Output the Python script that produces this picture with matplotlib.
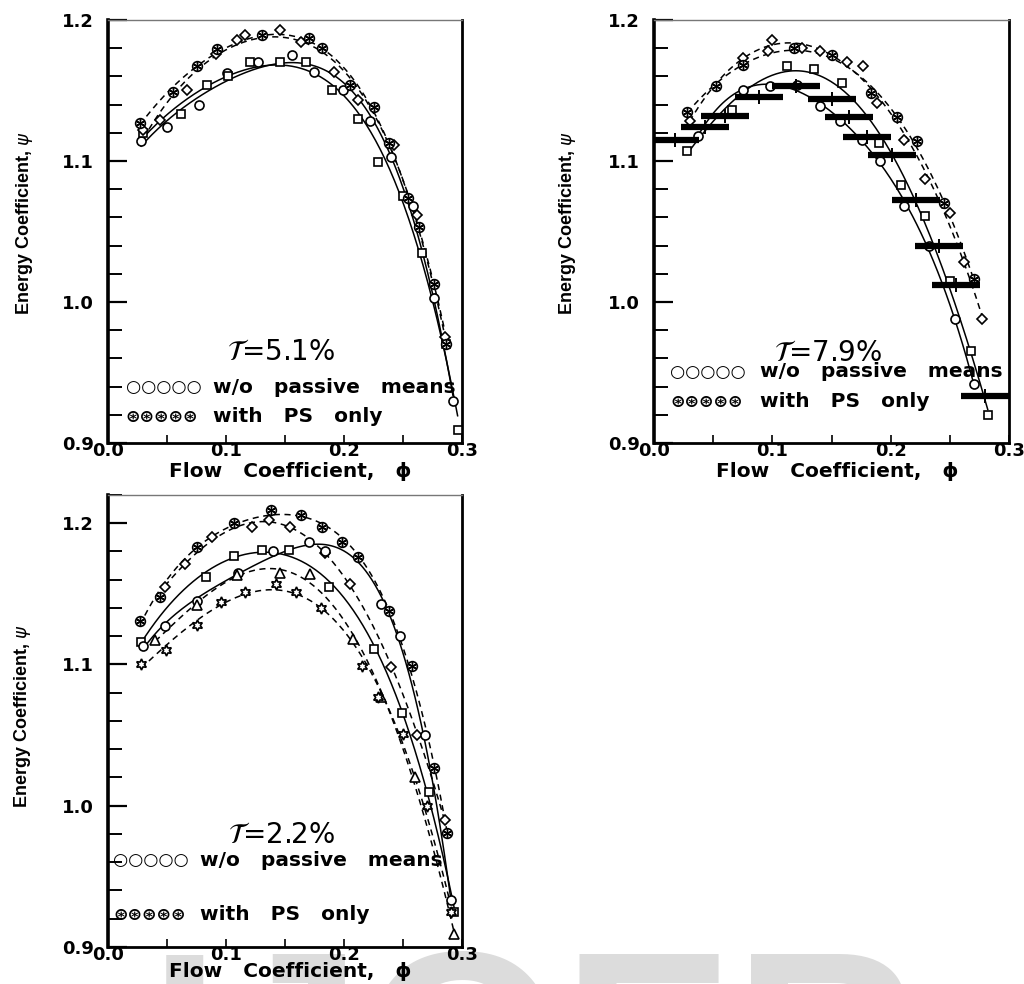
import numpy as np
import matplotlib
matplotlib.use("Agg")
import matplotlib.pyplot as plt
from matplotlib import font_manager
from matplotlib.ticker import MultipleLocator, FormatStrFormatter

# ---- tau = 5.1 % ----
a_circ_phi = [0.028, 0.050, 0.077, 0.101, 0.127, 0.156, 0.174, 0.199, 0.222, 0.240, 0.258, 0.276, 0.292]
a_circ_psi = [1.114, 1.124, 1.140, 1.162, 1.170, 1.175, 1.163, 1.150, 1.128, 1.103, 1.068, 1.003, 0.930]
a_sq_phi = [0.030, 0.062, 0.084, 0.102, 0.120, 0.146, 0.168, 0.190, 0.212, 0.229, 0.250, 0.266, 0.286, 0.296]
a_sq_psi = [1.120, 1.133, 1.154, 1.160, 1.170, 1.170, 1.170, 1.150, 1.130, 1.099, 1.075, 1.035, 0.970, 0.909]
a_dia_phi = [0.030, 0.044, 0.067, 0.091, 0.109, 0.116, 0.146, 0.163, 0.191, 0.212, 0.242, 0.262, 0.285]
a_dia_psi = [1.122, 1.129, 1.150, 1.176, 1.186, 1.189, 1.193, 1.184, 1.163, 1.143, 1.111, 1.062, 0.975]
a_ps_phi = [0.027, 0.055, 0.075, 0.092, 0.130, 0.170, 0.181, 0.205, 0.225, 0.238, 0.254, 0.263, 0.276, 0.286]
a_ps_psi = [1.127, 1.149, 1.167, 1.179, 1.189, 1.187, 1.180, 1.154, 1.138, 1.113, 1.074, 1.053, 1.013, 0.970]

# ---- tau = 7.9 % ----
b_circ_phi = [0.037, 0.075, 0.098, 0.121, 0.140, 0.157, 0.176, 0.191, 0.211, 0.232, 0.254, 0.270]
b_circ_psi = [1.118, 1.150, 1.153, 1.154, 1.139, 1.128, 1.115, 1.100, 1.068, 1.040, 0.988, 0.942]
b_sq_phi = [0.028, 0.066, 0.112, 0.135, 0.159, 0.190, 0.209, 0.229, 0.250, 0.268, 0.282]
b_sq_psi = [1.107, 1.136, 1.167, 1.165, 1.155, 1.113, 1.083, 1.061, 1.015, 0.965, 0.920]
b_dia_phi = [0.030, 0.075, 0.096, 0.100, 0.125, 0.140, 0.163, 0.177, 0.188, 0.211, 0.229, 0.250, 0.262, 0.277]
b_dia_psi = [1.128, 1.173, 1.178, 1.186, 1.180, 1.178, 1.170, 1.167, 1.141, 1.115, 1.087, 1.063, 1.028, 0.988]
b_ps_phi = [0.028, 0.052, 0.075, 0.118, 0.150, 0.183, 0.205, 0.222, 0.245, 0.270]
b_ps_psi = [1.135, 1.153, 1.168, 1.180, 1.175, 1.148, 1.131, 1.114, 1.070, 1.016]
b_bar_phi = [0.018, 0.043, 0.060, 0.089, 0.120, 0.150, 0.165, 0.180, 0.201, 0.221, 0.241, 0.255, 0.280]
b_bar_psi = [1.115, 1.124, 1.132, 1.145, 1.153, 1.144, 1.131, 1.117, 1.104, 1.072, 1.040, 1.012, 0.933]

# ---- tau = 2.2 % ----
c_ps_phi = [0.027, 0.044, 0.075, 0.107, 0.138, 0.163, 0.181, 0.198, 0.212, 0.238, 0.257, 0.276, 0.287]
c_ps_psi = [1.131, 1.148, 1.183, 1.200, 1.209, 1.206, 1.197, 1.187, 1.176, 1.138, 1.099, 1.027, 0.981]
c_dia_phi = [0.048, 0.065, 0.088, 0.122, 0.136, 0.154, 0.184, 0.205, 0.240, 0.262, 0.285]
c_dia_psi = [1.155, 1.171, 1.190, 1.197, 1.202, 1.197, 1.179, 1.157, 1.098, 1.050, 0.990]
c_sq_phi = [0.028, 0.083, 0.107, 0.130, 0.153, 0.187, 0.225, 0.249, 0.272, 0.293]
c_sq_psi = [1.116, 1.162, 1.177, 1.181, 1.181, 1.155, 1.111, 1.066, 1.010, 0.925]
c_circ_phi = [0.030, 0.048, 0.075, 0.110, 0.140, 0.170, 0.184, 0.231, 0.247, 0.268, 0.290]
c_circ_psi = [1.113, 1.127, 1.145, 1.165, 1.180, 1.187, 1.180, 1.143, 1.120, 1.050, 0.933]
c_tri_phi = [0.040, 0.075, 0.109, 0.146, 0.171, 0.207, 0.231, 0.260, 0.293]
c_tri_psi = [1.117, 1.142, 1.163, 1.165, 1.164, 1.118, 1.077, 1.020, 0.909]
c_star_phi = [0.028, 0.049, 0.075, 0.096, 0.116, 0.142, 0.159, 0.180, 0.215, 0.229, 0.250, 0.270, 0.290]
c_star_psi = [1.100, 1.110, 1.128, 1.144, 1.151, 1.157, 1.151, 1.140, 1.099, 1.077, 1.051, 1.000, 0.925]


def narrow_font():
    # pick a narrow face for the rotated axis label if one is installed
    names = {f.name for f in font_manager.fontManager.ttflist}
    if "Liberation Sans Narrow" in names:
        return dict(family=["Liberation Sans Narrow", "DejaVu Sans"], fontsize=14)
    return dict(family=["Liberation Sans", "DejaVu Sans"], fontsize=13)


TICK_FONT = font_manager.FontProperties(family="DejaVu Sans", weight="bold", size=13)
YLAB_FONT = narrow_font()


def fitted(phi, psi, deg=4):
    c = np.polyfit(phi, psi, deg)
    xs = np.linspace(min(phi), max(phi), 200)
    return xs, np.polyval(c, xs)


def series(ax, phi, psi, marker, ls, ms=6.5):
    xs, ys = fitted(phi, psi)
    if ls == "--":
        ax.plot(xs, ys, color="black", lw=1.1, dashes=(4, 3), zorder=2)
    else:
        ax.plot(xs, ys, color="black", lw=1.1, zorder=2)
    if marker == "ps":
        # circled asterisk for the PS data
        ax.plot(phi, psi, "o", ms=7, mfc="white", mec="black", mew=1.2, ls="none", zorder=3)
        ax.plot(phi, psi, marker=(6, 2, 0), ms=7, mec="black", mew=1.0, ls="none", zorder=4)
    else:
        ax.plot(phi, psi, marker=marker, ms=ms, mfc="white", mec="black", mew=1.2,
                ls="none", zorder=3)


def style_axes(ax, ylim, xlab_y, ylab_x, ylab_y):
    ax.set_xlim(0.0, 0.3)
    ax.set_ylim(*ylim)
    ax.xaxis.set_major_locator(MultipleLocator(0.1))
    ax.xaxis.set_minor_locator(MultipleLocator(0.05))
    ax.yaxis.set_major_locator(MultipleLocator(0.1))
    ax.yaxis.set_minor_locator(MultipleLocator(0.02))
    ax.xaxis.set_major_formatter(FormatStrFormatter("%.1f"))
    ax.yaxis.set_major_formatter(FormatStrFormatter("%.1f"))
    ax.tick_params(axis="y", which="major", direction="in", length=14, width=1.6, pad=10,
                   left=True, right=False)
    ax.tick_params(axis="y", which="minor", direction="in", length=10, width=1.4,
                   left=True, right=False)
    ax.tick_params(axis="x", which="both", direction="in", length=6, width=1.2, pad=-1,
                   top=False)
    for lab in ax.get_xticklabels() + ax.get_yticklabels():
        lab.set_fontproperties(TICK_FONT)
    ax.spines["left"].set_linewidth(2.6)
    ax.spines["bottom"].set_linewidth(2.0)
    ax.spines["right"].set_linewidth(2.0)
    ax.spines["top"].set_linewidth(1.0)
    ax.spines["top"].set_color("#777777")
    ax.set_xlabel("Flow   Coefficient,   \u03d5", fontsize=14.5, fontweight="bold",
                  family="DejaVu Sans")
    ax.set_ylabel(r"Energy Coefficient, $\psi$", fontweight="bold", **YLAB_FONT)
    ax.xaxis.set_label_coords(0.515, xlab_y)
    ax.yaxis.set_label_coords(ylab_x, ylab_y)


def legend_text(ax, tau, y_tau, y_row1, y_row2, x_row, x_words, x_tau):
    ax.text(x_tau, y_tau, r"$\mathcal{T}$=" + tau, transform=ax.transAxes, fontsize=20,
            va="center", ha="left", family="DejaVu Sans")
    ax.text(x_row, y_row1, "\u25cb\u25cb\u25cb\u25cb\u25cb", transform=ax.transAxes,
            fontsize=12.5, va="center", ha="left", family="DejaVu Sans")
    ax.text(x_row, y_row2, "\u229b\u229b\u229b\u229b\u229b", transform=ax.transAxes,
            fontsize=12.5, fontweight="bold", va="center", ha="left", family="DejaVu Sans")
    ax.text(x_words, y_row1, "w/o   passive   means", transform=ax.transAxes,
            fontsize=14.5, fontweight="bold", va="center", ha="left", family="DejaVu Sans",
            clip_on=False, zorder=6)
    ax.text(x_words, y_row2, "with   PS   only", transform=ax.transAxes,
            fontsize=14.5, fontweight="bold", va="center", ha="left", family="DejaVu Sans",
            zorder=6)


fig = plt.figure(figsize=(10.24, 9.84), dpi=100)
fig.text(0.145, 0.040, "IJOER", fontsize=185, fontweight="bold", color="#dcdcdc",
         va="top", ha="left", family="Liberation Sans", zorder=-5)

ax1 = fig.add_axes([0.1055, 0.5498, 0.346, 0.430])
ax2 = fig.add_axes([0.6387, 0.5498, 0.3467, 0.430])
ax3 = fig.add_axes([0.1055, 0.0376, 0.346, 0.4594])

# top-left panel
series(ax1, a_circ_phi, a_circ_psi, "o", "-")
series(ax1, a_sq_phi, a_sq_psi, "s", "-", ms=6)
series(ax1, a_dia_phi, a_dia_psi, "D", "--", ms=5)
series(ax1, a_ps_phi, a_ps_psi, "ps", "--")
style_axes(ax1, (0.9, 1.2), -0.045, -0.205, 0.52)
legend_text(ax1, "5.1%", 0.215, 0.132, 0.062, 0.05, 0.297, 0.335)

# top-right panel
series(ax2, b_circ_phi, b_circ_psi, "o", "-")
series(ax2, b_sq_phi, b_sq_psi, "s", "-", ms=6)
series(ax2, b_dia_phi, b_dia_psi, "D", "--", ms=5)
series(ax2, b_ps_phi, b_ps_psi, "ps", "--")
ax2.plot(b_bar_phi, b_bar_psi, marker="_", ms=34, mew=4.5, color="black", ls="none", zorder=5)
ax2.plot(b_bar_phi, b_bar_psi, marker="|", ms=10, mew=1.4, color="black", ls="none", zorder=5)
style_axes(ax2, (0.9, 1.2), -0.045, -0.214, 0.52)
legend_text(ax2, "7.9%", 0.213, 0.168, 0.097, 0.045, 0.299, 0.338)

# bottom-left panel
series(ax3, c_ps_phi, c_ps_psi, "ps", "--")
series(ax3, c_dia_phi, c_dia_psi, "D", "--", ms=5)
series(ax3, c_sq_phi, c_sq_psi, "s", "-", ms=6)
series(ax3, c_circ_phi, c_circ_psi, "o", "-")
series(ax3, c_tri_phi, c_tri_psi, "^", "--")
series(ax3, c_star_phi, c_star_psi, (6, 1, 0), "--", ms=8)
style_axes(ax3, (0.9, 1.22), -0.034, -0.212, 0.51)
legend_text(ax3, "2.2%", 0.248, 0.192, 0.071, 0.015, 0.26, 0.34)

fig.savefig("out.png", dpi=100, facecolor="white")
